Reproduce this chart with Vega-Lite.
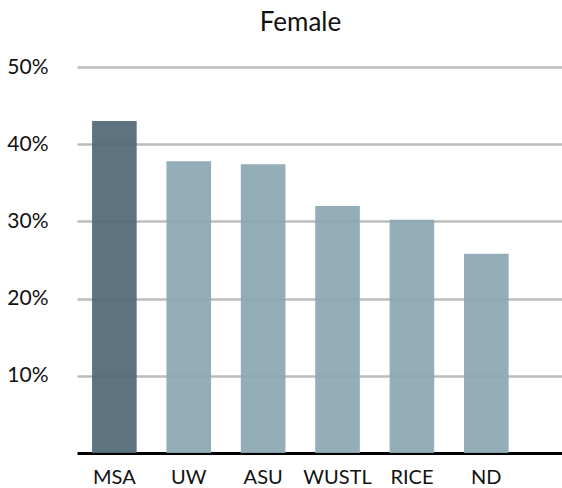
{
  "$schema": "https://vega.github.io/schema/vega-lite/v6.json",
  "autosize": "none",
  "padding": {"left": 77, "top": 67, "right": 0, "bottom": 35},
  "width": 485,
  "height": 386,
  "background": "white",
  "title": {"text": "Female", "font": "Lato", "fontSize": 26, "fontWeight": "normal", "color": "#111111", "anchor": "middle", "dx": -19, "offset": 20},
  "data": {"values": [
    {"school": "MSA", "pct": 0.430, "highlight": "yes"},
    {"school": "UW", "pct": 0.378, "highlight": "no"},
    {"school": "ASU", "pct": 0.374, "highlight": "no"},
    {"school": "WUSTL", "pct": 0.320, "highlight": "no"},
    {"school": "RICE", "pct": 0.302, "highlight": "no"},
    {"school": "ND", "pct": 0.258, "highlight": "no"}
  ]},
  "mark": {"type": "bar", "opacity": 0.92},
  "encoding": {
    "x": {"field": "school", "type": "nominal", "sort": null,
      "scale": {"paddingInner": 0.4, "paddingOuter": 0.46, "align": 0.22},
      "axis": {"title": null, "labelAngle": 0, "labelFont": "Lato", "labelFontSize": 20, "labelColor": "#111111", "labelPadding": 14, "ticks": false, "domainColor": "#000000", "domainWidth": 3, "grid": false}},
    "y": {"field": "pct", "type": "quantitative",
      "scale": {"domain": [0, 0.5], "nice": false},
      "axis": {"title": null, "format": ".0%", "values": [0.1, 0.2, 0.3, 0.4, 0.5], "labelFont": "Lato", "labelFontSize": 21, "labelColor": "#111111", "labelPadding": 29, "ticks": false, "domain": false, "gridColor": "#bcbcbc", "gridWidth": 2.5}},
    "color": {"field": "highlight", "type": "nominal",
      "scale": {"domain": ["yes", "no"], "range": ["#4f6775", "#8aa6b3"]}, "legend": null}
  },
  "config": {"view": {"stroke": null}}
}
